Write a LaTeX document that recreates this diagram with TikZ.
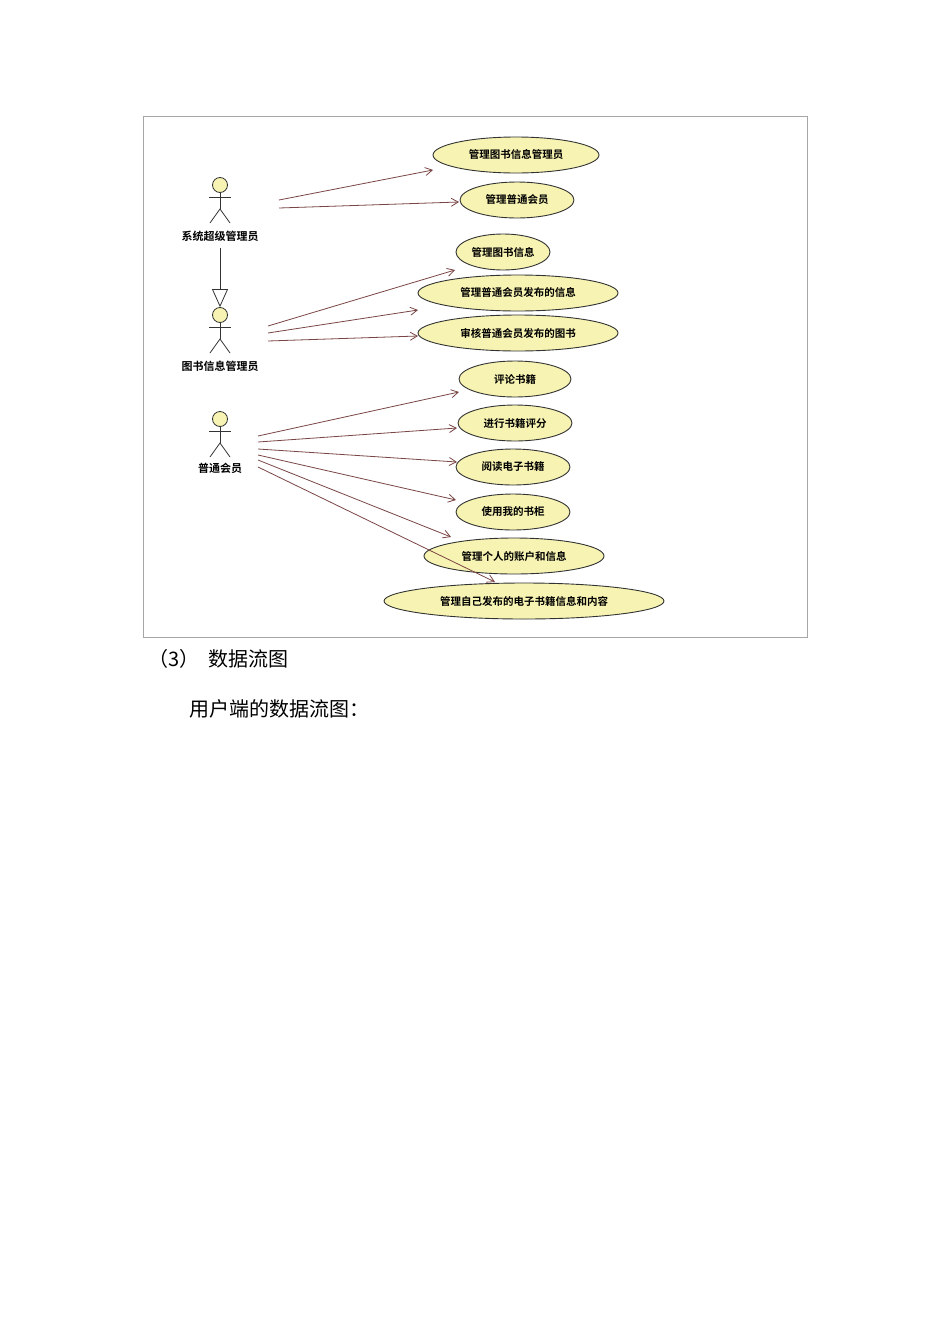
\documentclass[tikz,border=0pt]{standalone}
\usepackage{fontspec}
\setmainfont{Noto Sans CJK SC}
\newfontfamily\cjkb{Noto Sans CJK SC Bold}
\usetikzlibrary{shapes.geometric,arrows.meta}
\definecolor{ufill}{HTML}{F7F3B2}
\definecolor{uline}{HTML}{7A4545}
\tikzset{
 uc/.style={ellipse,draw=black!80,fill=ufill,line width=0.9pt,inner sep=0pt,font=\cjkb\fontsize{10.5}{12}\selectfont},
 assoc/.style={draw=uline,line width=0.8pt,-{Straight Barb[length=7pt,width=8pt]}},
 actlbl/.style={font=\cjkb\fontsize{11}{12}\selectfont},
 stick/.style={black!80,line width=0.8pt},
}
\newcommand{\myactor}[3]{%
 \node[circle,draw=black!80,fill=ufill,minimum size=15pt,inner sep=0pt,line width=0.8pt] (#1h) at (#2,#3) {};
 \draw[stick] (#1h.south) -- (#2,#3+24) coordinate (#1hip);
 \draw[stick] (#2-11,#3+12) -- (#2+11,#3+12);
 \draw[stick] (#2-10,#3+38) -- (#1hip) -- (#2+10,#3+38);
}
\begin{document}
\begin{tikzpicture}[x=1pt,y=-1pt]
\useasboundingbox (0,0) rectangle (950,1344);
\fill[white] (0,0) rectangle (950,1344);
\draw[gray!70,line width=0.8pt] (143,116) rectangle (807,637);
\node[uc,minimum width=166pt,minimum height=36pt] (u1) at (516,155) {管理图书信息管理员};
\node[uc,minimum width=114pt,minimum height=36pt] (u2) at (517,200) {管理普通会员};
\node[uc,minimum width=94pt,minimum height=36pt] (u3) at (503,252) {管理图书信息};
\node[uc,minimum width=200pt,minimum height=36pt] (u4) at (518,293) {管理普通会员发布的信息};
\node[uc,minimum width=200pt,minimum height=36pt] (u5) at (518,333) {审核普通会员发布的图书};
\node[uc,minimum width=112pt,minimum height=36pt] (u6) at (515,379) {评论书籍};
\node[uc,minimum width=114pt,minimum height=36pt] (u7) at (515,423) {进行书籍评分};
\node[uc,minimum width=114pt,minimum height=36pt] (u8) at (513,467) {阅读电子书籍};
\node[uc,minimum width=114pt,minimum height=36pt] (u9) at (513,512) {使用我的书柜};
\node[uc,minimum width=180pt,minimum height=36pt] (u10) at (514,556) {管理个人的账户和信息};
\node[uc,minimum width=280pt,minimum height=36pt] (u11) at (524,601) {管理自己发布的电子书籍信息和内容};
\myactor{a}{220}{185}
\myactor{b}{220}{315}
\myactor{c}{220}{419}
\node[actlbl] (al) at (220,236) {系统超级管理员};
\node[actlbl] (bl) at (220,366) {图书信息管理员};
\node[actlbl] (cl) at (220,468) {普通会员};
\coordinate (ga) at (220,248);
\draw[black!80,line width=0.8pt,-{Triangle[open,length=18pt,width=16pt]}] (ga) -- (bh.north);
\coordinate (a1) at (279,200); \coordinate (a2) at (279,208);
\coordinate (t1) at (433,170); \coordinate (t2) at (459,202);
\draw[assoc] (a1) -- (t1); \draw[assoc] (a2) -- (t2);
\coordinate (b1) at (268,326); \coordinate (b2) at (268,333); \coordinate (b3) at (268,341);
\coordinate (t3) at (455,270); \coordinate (t4) at (418,310); \coordinate (t5) at (418,336);
\draw[assoc] (b1) -- (t3); \draw[assoc] (b2) -- (t4); \draw[assoc] (b3) -- (t5);
\coordinate (c1) at (258,436); \coordinate (c2) at (258,442); \coordinate (c3) at (258,449);
\coordinate (c4) at (258,455); \coordinate (c5) at (258,460); \coordinate (c6) at (258,467);
\coordinate (t6) at (459,392); \coordinate (t7) at (457,428); \coordinate (t8) at (457,462);
\coordinate (t9) at (456,500); \coordinate (t10) at (451,537); \coordinate (t11) at (495,582);
\draw[assoc] (c1) -- (t6); \draw[assoc] (c2) -- (t7); \draw[assoc] (c3) -- (t8);
\draw[assoc] (c4) -- (t9); \draw[assoc] (c5) -- (t10); \draw[assoc] (c6) -- (t11);
\node[anchor=west,font=\fontsize{20}{22}\selectfont] (h3) at (145,659) {（3）\ \ 数据流图};
\node[anchor=west,font=\fontsize{20}{22}\selectfont] (h4) at (186,709) {用户端的数据流图：};
\end{tikzpicture}
\end{document}
